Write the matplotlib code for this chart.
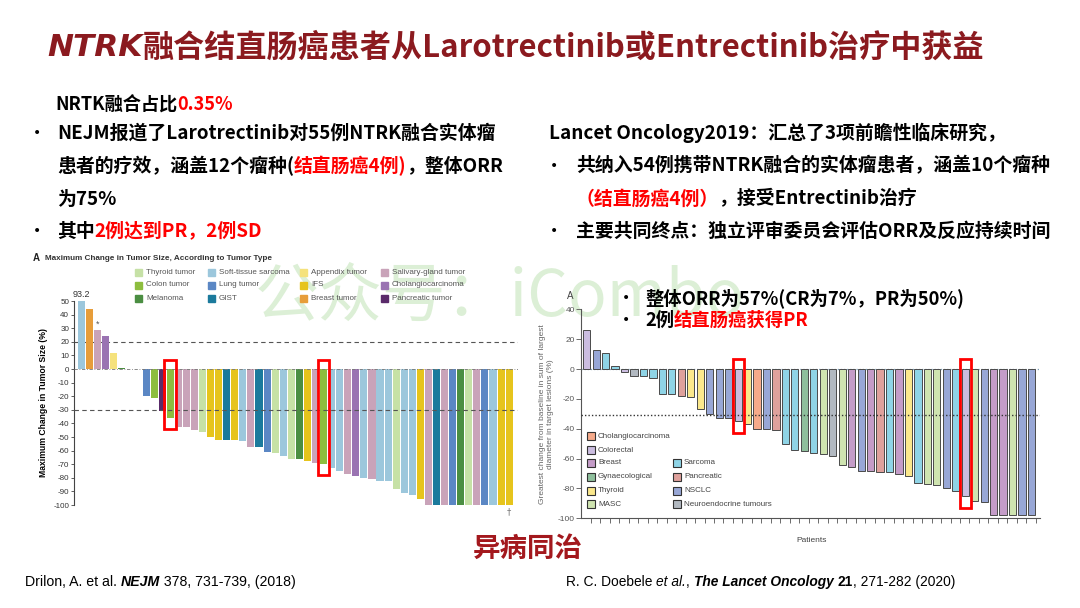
import numpy as np
import matplotlib
matplotlib.use('Agg')
import matplotlib.pyplot as plt
from matplotlib.patches import Rectangle

plt.rcParams['font.family'] = ['Noto Sans CJK SC', 'DejaVu Sans']

W, H = 1080, 608

# --- left chart: NEJM larotrectinib waterfall ---
nejm_pos_change = [93.2, 44, 29, 24, 12, 1]
nejm_pos_type = ['Soft-tissue sarcoma', 'Breast tumor', 'Salivary-gland tumor',
                 'Cholangiocarcinoma', 'Appendix tumor', 'Melanoma']
nejm_neg_change = [-20, -21, -31, -36, -43, -43, -45, -46, -50, -52, -52, -52,
                   -53, -57, -57, -61, -62, -64, -66, -66, -68, -69, -70, -72.5,
                   -75, -77.5, -79, -80, -81, -82, -82.5, -88, -91, -92.5, -95.5,
                   -100, -100, -100, -100, -100, -100, -100, -100, -100, -100, -100]
nejm_neg_type = ['Lung tumor', 'Colon tumor', 'Pancreatic tumor', 'Colon tumor',
                 'Salivary-gland tumor', 'Salivary-gland tumor', 'Salivary-gland tumor',
                 'Thyroid tumor', 'IFS', 'IFS', 'GIST', 'IFS', 'Soft-tissue sarcoma',
                 'Salivary-gland tumor', 'GIST', 'Lung tumor', 'Thyroid tumor',
                 'Soft-tissue sarcoma', 'Thyroid tumor', 'Melanoma', 'IFS',
                 'Salivary-gland tumor', 'Colon tumor', 'Soft-tissue sarcoma',
                 'Soft-tissue sarcoma', 'Salivary-gland tumor', 'Cholangiocarcinoma',
                 'Soft-tissue sarcoma', 'Salivary-gland tumor', 'Soft-tissue sarcoma',
                 'Soft-tissue sarcoma', 'Thyroid tumor', 'Soft-tissue sarcoma',
                 'Soft-tissue sarcoma', 'IFS', 'Salivary-gland tumor', 'GIST',
                 'Salivary-gland tumor', 'Lung tumor', 'Melanoma', 'Thyroid tumor',
                 'Salivary-gland tumor', 'Lung tumor', 'Soft-tissue sarcoma', 'IFS', 'IFS']
nejm_colors = {
    'Thyroid tumor': '#c6e1a6', 'Colon tumor': '#8dbd3e', 'Melanoma': '#4b8e42',
    'Soft-tissue sarcoma': '#9cc7dc', 'Lung tumor': '#5b87c4', 'GIST': '#1b7a9c',
    'Appendix tumor': '#f5e27c', 'IFS': '#e6c41c', 'Breast tumor': '#e79d3a',
    'Salivary-gland tumor': '#c9a3b9', 'Cholangiocarcinoma': '#9a73b2',
    'Pancreatic tumor': '#5a2a6a',
}
nejm_legend_cols = [['Thyroid tumor', 'Colon tumor', 'Melanoma'],
                    ['Soft-tissue sarcoma', 'Lung tumor', 'GIST'],
                    ['Appendix tumor', 'IFS', 'Breast tumor'],
                    ['Salivary-gland tumor', 'Cholangiocarcinoma', 'Pancreatic tumor']]

# --- right chart: Lancet Oncology entrectinib waterfall ---
lancet_change = [26, 12.5, 10.7, 1.8, -2, -5, -5, -6, -17, -17, -18, -19, -27, -30,
                 -32.5, -33, -35, -36.5, -40, -40, -41, -50.3, -54.3, -55, -56.5, -57,
                 -58, -64.5, -65.5, -68.4, -68.4, -68.8, -69.3, -70.5, -71.4, -76.5,
                 -77, -78, -79.4, -81.6, -85.3, -88.3, -88.9, -98, -98, -98, -98, -98]
lancet_type = ['Colorectal', 'NSCLC', 'Sarcoma', 'Sarcoma', 'Colorectal',
               'Neuroendocrine tumours', 'Sarcoma', 'Sarcoma', 'Sarcoma', 'Sarcoma',
               'Pancreatic', 'Thyroid', 'Thyroid', 'NSCLC', 'NSCLC', 'NSCLC',
               'Colorectal', 'Thyroid', 'Cholangiocarcinoma', 'NSCLC', 'Pancreatic',
               'Sarcoma', 'Sarcoma', 'Gynaecological', 'Sarcoma', 'MASC',
               'Neuroendocrine tumours', 'MASC', 'Breast', 'NSCLC', 'Breast',
               'Pancreatic', 'Sarcoma', 'Breast', 'Thyroid', 'Sarcoma', 'MASC', 'MASC',
               'NSCLC', 'Sarcoma', 'Colorectal', 'MASC', 'NSCLC', 'Breast', 'Breast',
               'MASC', 'NSCLC', 'NSCLC']
lancet_colors = {
    'Cholangiocarcinoma': '#f6aa8a', 'Colorectal': '#cbbde0', 'Breast': '#c49cc8',
    'Gynaecological': '#8ebf9c', 'Thyroid': '#fbe88c', 'MASC': '#cfe4b0',
    'Sarcoma': '#8fd4e6', 'Pancreatic': '#dfa19c', 'NSCLC': '#98a7d6',
    'Neuroendocrine tumours': '#b2b9c1',
}
lancet_legend_cols = [['Cholangiocarcinoma', 'Colorectal', 'Breast', 'Gynaecological',
                       'Thyroid', 'MASC'],
                      ['Sarcoma', 'Pancreatic', 'NSCLC', 'Neuroendocrine tumours']]

TITLE_RED = '#8b1a1f'
RED = '#ff0000'
SANS = ['Liberation Sans', 'DejaVu Sans']

fig = plt.figure(figsize=(10.8, 6.08), dpi=100)

# background axes in pixel coords (y down) for slide text
bg = fig.add_axes([0, 0, 1, 1])
bg.set_xlim(0, W)
bg.set_ylim(H, 0)
bg.axis('off')

# watermark, drawn first so everything sits on top of it
bg.text(255, 298, '公众号：iCombo', fontsize=46, color='#dcefd6', va='center',
        ha='left', zorder=0)


def rich(x, y, parts, size, weight='bold', family=None):
    t = None
    for p in parts:
        s, c = p[0], p[1]
        kw = dict(fontsize=size, weight=weight, color=c, va='center', ha='left')
        if family:
            kw['family'] = family
        if len(p) > 2:
            kw.update(p[2])
        if t is None:
            t = bg.text(x, y, s, **kw)
        else:
            t = bg.annotate(s, xy=(1, 0.5), xycoords=t, **kw)
    return t


def bullet(x, y):
    bg.text(x, y, '•', fontsize=10, va='center', ha='left', family=['DejaVu Sans'])


# title
rich(47, 48, [('NTRK', TITLE_RED, dict(style='italic', family=['DejaVu Sans'])),
              ('融合结直肠癌患者从Larotrectinib或Entrectinib治疗中获益', TITLE_RED)], 22.4)

# left text block
BODY = 13.6
rich(55, 105, [('NRTK融合占比', 'black'), ('0.35%', RED)], 13.1)
for yy in (133, 231):
    bullet(33, yy)
rich(57, 133, [('NEJM报道了Larotrectinib对55例NTRK融合实体瘤', 'black')], BODY)
rich(57, 166, [('患者的疗效，涵盖12个瘤种(', 'black'), ('结直肠癌4例)', RED),
               ('，整体ORR', 'black')], BODY)
rich(57, 199, [('为75%', 'black')], BODY)
rich(57, 231, [('其中', 'black'), ('2例达到PR，2例SD', RED)], BODY)

# right text block
rich(549, 133, [('Lancet Oncology2019：汇总了3项前瞻性临床研究，', 'black')], BODY)
for yy in (166, 231):
    bullet(550, yy)
rich(576, 166, [('共纳入54例携带NTRK融合的实体瘤患者，涵盖10个瘤种', 'black')], BODY)
rich(576, 199, [('（结直肠癌4例）', RED), ('，接受Entrectinib治疗', 'black')], BODY)
rich(576, 231, [('主要共同终点：独立评审委员会评估ORR及反应持续时间', 'black')], BODY)

# ---------------- left waterfall ----------------
axL = fig.add_axes([74 / W, 1 - 505 / H, (518 - 74) / W, (505 - 301) / H])
axL.patch.set_alpha(0)
gap = 2
xpos = np.arange(len(nejm_pos_change))
xneg = np.arange(len(nejm_neg_change)) + len(nejm_pos_change) + gap
axL.bar(xpos, np.minimum(nejm_pos_change, 50), width=0.88,
        color=[nejm_colors[t] for t in nejm_pos_type], zorder=2)
axL.bar(xneg, nejm_neg_change, width=0.88,
        color=[nejm_colors[t] for t in nejm_neg_type], zorder=2)
axL.set_xlim(-0.93, 54.1)
axL.set_ylim(-100, 50)
axL.axhline(20, color='#555555', lw=0.8, ls=(0, (4, 3)), zorder=1)
axL.axhline(-30, color='#555555', lw=0.8, ls=(0, (4, 3)), zorder=3)
axL.axhline(0, color='#777777', lw=0.6, ls=(0, (4, 2, 1, 2)), zorder=3)
for s in ('top', 'right', 'bottom'):
    axL.spines[s].set_visible(False)
axL.spines['left'].set_color('#444444')
axL.spines['left'].set_linewidth(0.8)
yt = np.arange(-100, 51, 10)
axL.set_yticks(yt)
axL.set_yticklabels([str(v) for v in yt], fontsize=5.8, color='#333333', family=SANS)
axL.tick_params(axis='y', length=2.5, width=0.6, color='#444444', pad=1)
axL.set_xticks([])
axL.set_ylabel('Maximum Change in Tumor Size (%)', fontsize=6.2, weight='bold',
               family=SANS, labelpad=4)
axL.text(xpos[0], 51.5, '%.1f' % nejm_pos_change[0], fontsize=6.5, ha='center',
         va='bottom', color='#333333', family=SANS)
axL.text(xpos[2], nejm_pos_change[2] + 0.5, '*', fontsize=6.5, ha='center',
         va='bottom', color='#555555', family=SANS)
axL.text(xneg[-1], -102, '†', fontsize=6, ha='center', va='top', color='#777777',
         family=['DejaVu Sans'])
for x, v, t in zip(xneg, nejm_neg_change, nejm_neg_type):
    if t == 'Colon tumor' and v <= -30:
        axL.add_patch(Rectangle((x - 0.72, v - 8), 1.44, -v + 8 + 6.6, fill=False,
                                ec=RED, lw=2, zorder=5, clip_on=False))

bg.text(33, 258, 'A', fontsize=7, weight='bold', va='center', family=SANS,
        color='#222222')
bg.text(45, 258, 'Maximum Change in Tumor Size, According to Tumor Type', fontsize=5.9,
        weight='bold', va='center', family=SANS, color='#333333')
leg_x = [135, 208, 300, 381]
leg_y = [272, 285, 298]
for cx, col in zip(leg_x, nejm_legend_cols):
    for cy, name in zip(leg_y, col):
        bg.add_patch(Rectangle((cx, cy - 3.5), 7, 7, color=nejm_colors[name]))
        bg.text(cx + 11, cy, name, fontsize=5.8, va='center', color='#555555',
                family=SANS)

# ---------------- right waterfall ----------------
axR = fig.add_axes([581 / W, 1 - 518.3 / H, (1040 - 581) / W, (518.3 - 309.3) / H])
axR.patch.set_alpha(0)
xr = np.arange(len(lancet_change))
axR.bar(xr, lancet_change, width=0.76, color=[lancet_colors[t] for t in lancet_type],
        edgecolor='#4a4a4a', linewidth=0.7, zorder=2)
axR.set_xlim(-0.6, 47.9)
axR.set_ylim(-100, 40)
axR.axhline(0, color='#7a9db5', lw=0.9, ls=(0, (1, 1.5)), zorder=1)
axR.axhline(-31, color='#333333', lw=1.0, ls=(0, (1, 1.5)), zorder=3)
for s in ('top', 'right'):
    axR.spines[s].set_visible(False)
for s in ('left', 'bottom'):
    axR.spines[s].set_color('#555555')
    axR.spines[s].set_linewidth(0.8)
yr = np.arange(-100, 41, 20)
axR.set_yticks(yr)
axR.set_yticklabels([str(v) for v in yr], fontsize=6, color='#555555', family=SANS)
axR.set_xticks(xr + 0.45)
axR.set_xticklabels([])
axR.tick_params(length=3.5, width=0.6, color='#555555', pad=1)
axR.set_ylabel('Greatest change from baseline in sum of largest\n'
               'diameter in target lesions (%)', fontsize=6, color='#666666',
               family=SANS, labelpad=3, linespacing=1.1)
for x, v, t in zip(xr, lancet_change, lancet_type):
    if t == 'Colorectal' and v <= -30:
        axR.add_patch(Rectangle((x - 0.58, v - 8), 1.16, -v + 8 + 6.5, fill=False,
                                ec=RED, lw=2, zorder=5, clip_on=False))

bg.text(567, 296, 'A', fontsize=7, va='center', family=SANS, color='#444444')
bg.text(812, 541, 'Patients', fontsize=6, va='center', ha='center', family=SANS,
        color='#444444')
rleg_x = [587, 673]
rleg_y = [[436, 450, 463, 477, 491, 504], [463, 477, 491, 504]]
for cx, ys, col in zip(rleg_x, rleg_y, lancet_legend_cols):
    for cy, name in zip(ys, col):
        bg.add_patch(Rectangle((cx, cy - 4), 8, 8, fc=lancet_colors[name], ec='#333333',
                               lw=0.8))
        bg.text(cx + 11, cy, name, fontsize=5.8, va='center', color='#444444',
                family=SANS)

# overlay bullets on right chart
for yy in (298, 320):
    bullet(622, yy)
rich(645, 298, [('整体ORR为57%(CR为7%，PR为50%)', 'black')], 13.2)
rich(645, 320, [('2例', 'black'), ('结直肠癌获得PR', RED)], 13.2)

# bottom text
rich(473, 549, [('异病同治', '#a3181d')], 19.8)
rich(25, 582, [('Drilon, A. et al. ', 'black'),
               ('NEJM', 'black', dict(weight='bold', style='italic')),
               (' 378, 731-739, (2018)', 'black')], 10.2, weight='normal', family=SANS)
rich(566, 582, [('R. C. Doebele ', 'black'),
                ('et al.', 'black', dict(style='italic')),
                (', ', 'black'),
                ('The Lancet Oncology', 'black', dict(weight='bold', style='italic')),
                (' ', 'black'),
                ('21', 'black', dict(weight='bold')),
                (', 271-282 (2020)', 'black')], 9.9, weight='normal', family=SANS)

fig.savefig('out.png', dpi=100)
